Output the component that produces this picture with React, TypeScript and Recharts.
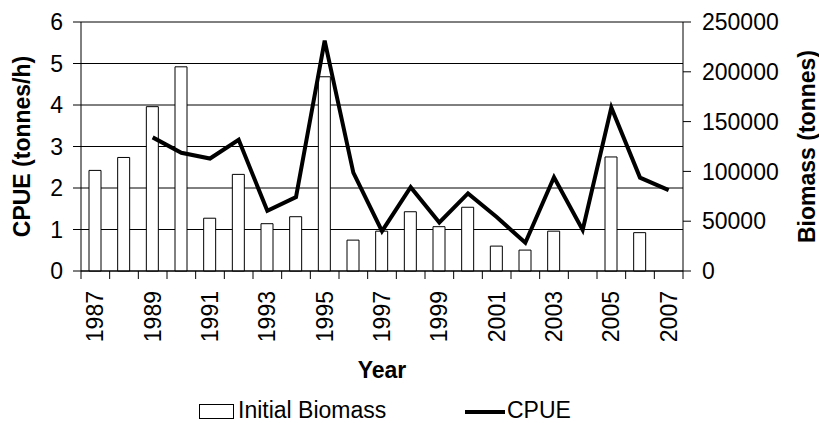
import React from 'react';
import { ComposedChart, Bar, Line, XAxis, YAxis, CartesianGrid, Legend, Label } from 'recharts';

const years = ['1987', '1988', '1989', '1990', '1991', '1992', '1993', '1994', '1995', '1996', '1997', '1998', '1999', '2000', '2001', '2002', '2003', '2004', '2005', '2006', '2007'];
const initialBiomass: (number | null)[] = [101000, 114000, 165000, 205000, 53000, 97000, 47500, 54500, 195000, 31000, 40000, 59500, 44500, 64000, 25000, 21000, 40000, null, 114500, 38500, null];
const cpue: (number | null)[] = [null, null, 3.22, 2.85, 2.71, 3.16, 1.45, 1.78, 5.55, 2.37, 0.96, 2.02, 1.17, 1.87, 1.3, 0.68, 2.26, 0.99, 3.94, 2.25, 1.95];
const cpueTicks = [0, 1, 2, 3, 4, 5, 6];
const biomassTicks = [0, 50000, 100000, 150000, 200000, 250000];

const data = years.map((year, i) => ({ year, biomass: initialBiomass[i], cpue: cpue[i] }));

const W = 819;
const H = 423;
const LEFT_W = 81;
const RIGHT_W = 136;
const BAND = (W - LEFT_W - RIGHT_W) / years.length;
const FONT = 'Liberation Sans, Arial, Helvetica, sans-serif';
const FS = 23;

function YearTick(props: any) {
  const { x, y, index, payload } = props;
  const left = x - BAND / 2;
  const ty = y + 20;
  return (
    <g>
      <line x1={left} y1={y} x2={left} y2={y + 8} stroke="#000" strokeWidth={1} />
      {index === years.length - 1 && (
        <line x1={x + BAND / 2} y1={y} x2={x + BAND / 2} y2={y + 8} stroke="#000" strokeWidth={1} />
      )}
      {index % 2 === 0 && (
        <text
          x={x}
          y={ty}
          transform={`rotate(-90 ${x} ${ty})`}
          textAnchor="end"
          dominantBaseline="central"
          fontSize={FS}
          fill="#000"
        >
          {payload.value}
        </text>
      )}
    </g>
  );
}

function LegendContent() {
  return (
    <svg width={W} height={36} style={{ display: 'block' }}>
      <rect x={199.5} y={17.5} width={34} height={14} fill="#fff" stroke="#000" strokeWidth={1} />
      <text x={238} y={31} fontSize={FS} fill="#000">Initial Biomass</text>
      <line x1={465} y1={25} x2={505} y2={25} stroke="#000" strokeWidth={4} />
      <text x={507} y={31} fontSize={FS} fill="#000">CPUE</text>
    </svg>
  );
}

export default function App() {
  return (
    <div style={{ position: 'absolute', left: 0, top: 0, fontFamily: FONT }}>
      <ComposedChart width={W} height={H} data={data} margin={{ top: 22, right: 0, bottom: 0, left: 0 }}>
        <CartesianGrid yAxisId="left" vertical={false} stroke="#000" strokeWidth={1} />
        <XAxis
          dataKey="year"
          interval={0}
          height={116}
          tickLine={false}
          tickSize={0}
          tickMargin={0}
          axisLine={{ stroke: '#000', strokeWidth: 1 }}
          tick={<YearTick />}
        >
          <Label value="Year" position="insideBottom" offset={9} fontSize={FS} fontWeight="bold" fill="#000" />
        </XAxis>
        <YAxis
          yAxisId="left"
          width={LEFT_W}
          domain={[0, 6]}
          ticks={cpueTicks}
          tickSize={8}
          tickMargin={10}
          axisLine={{ stroke: '#000' }}
          tickLine={{ stroke: '#000' }}
          tick={{ fill: '#000', fontSize: FS }}
          interval={0}
        >
          <Label
            value="CPUE (tonnes/h)"
            angle={-90}
            position="insideLeft"
            offset={22}
            fontSize={FS}
            fontWeight="bold"
            fill="#000"
            style={{ textAnchor: 'middle' }}
          />
        </YAxis>
        <YAxis
          yAxisId="right"
          orientation="right"
          width={RIGHT_W}
          domain={[0, 250000]}
          ticks={biomassTicks}
          tickSize={8}
          tickMargin={11}
          axisLine={{ stroke: '#000' }}
          tickLine={{ stroke: '#000' }}
          tick={{ fill: '#000', fontSize: FS }}
          interval={0}
        >
          <Label
            value="Biomass (tonnes)"
            angle={-90}
            position="insideRight"
            offset={12}
            fontSize={FS}
            fontWeight="bold"
            fill="#000"
            style={{ textAnchor: 'middle' }}
          />
        </YAxis>
        <Legend verticalAlign="bottom" content={<LegendContent />} />
        <Bar
          yAxisId="right"
          dataKey="biomass"
          name="Initial Biomass"
          fill="#fff"
          stroke="#000"
          strokeWidth={1}
          barSize={12}
          isAnimationActive={false}
        />
        <Line
          yAxisId="left"
          type="linear"
          dataKey="cpue"
          name="CPUE"
          stroke="#000"
          strokeWidth={4}
          dot={false}
          activeDot={false}
          isAnimationActive={false}
        />
      </ComposedChart>
    </div>
  );
}
